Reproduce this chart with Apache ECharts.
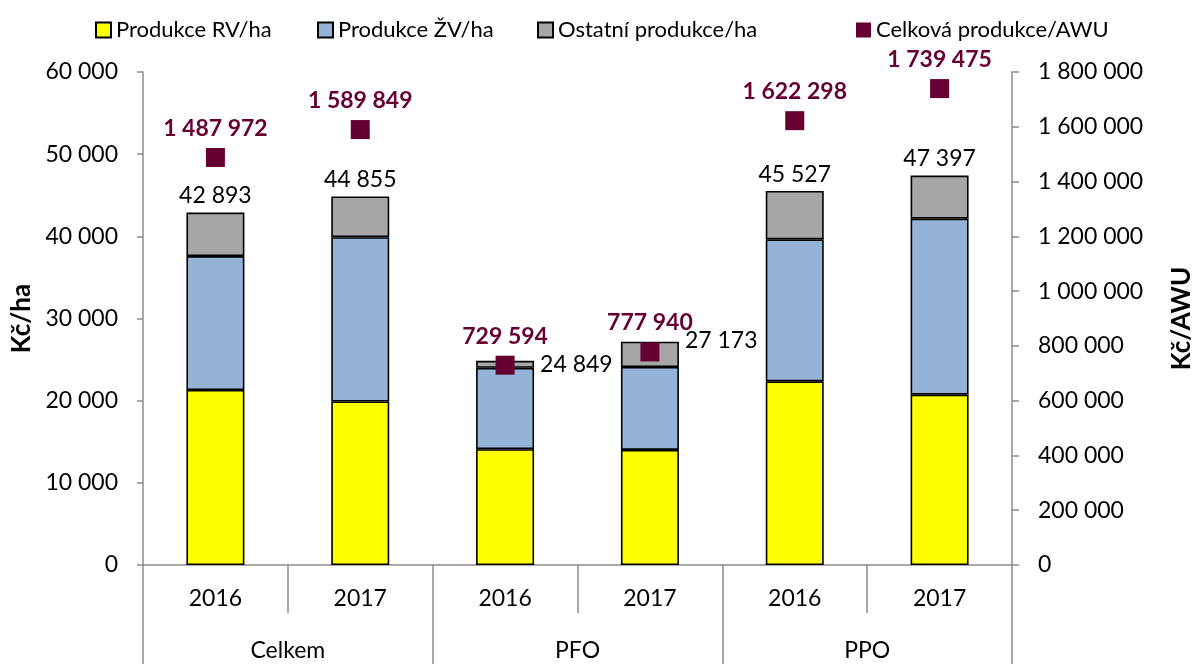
<!DOCTYPE html>
<html>
<head>
<meta charset="utf-8">
<script src="https://cdn.jsdelivr.net/npm/echarts@6/dist/echarts.min.js"></script>
<style>
  html, body { margin: 0; padding: 0; background: #fff; }
  #chart { width: 1203px; height: 664px; }
</style>
</head>
<body>
<div id="chart"></div>
<script>
// data
const years = ['2016', '2017', '2016', '2017', '2016', '2017']
const groups = ['Celkem', 'PFO', 'PPO']
const rvData = [21300, 19900, 14100, 14000, 22350, 20730]
const zvData = [16300, 20000, 9900, 10100, 17280, 21420]
const ostatniData = [5293, 4955, 849, 3073, 5897, 5247]
const totalData = [42893, 44855, 24849, 27173, 45527, 47397]
const awuData = [1487972, 1589849, 729594, 777940, 1622298, 1739475]
const leftTicks = { min: 0, max: 60000, interval: 10000 }
const rightTicks = { min: 0, max: 1800000, interval: 200000 }

const FONT = 'Lato'
const FS = 23
const AXIS_GREY = '#8c8c8c'
const fmt = v => String(Math.round(v)).replace(/\B(?=(\d{3})+(?!\d))/g, ' ')

const chart = echarts.init(document.getElementById('chart'))

// total label sits above the bar, except the PFO pair where it sits to the right
const totalLabel = (i) => {
  if (i === 2) return { position: 'right', distance: 6, offset: [0, 0] }
  if (i === 3) return { position: 'right', distance: 6, offset: [0, -14] }
  return { position: 'top', distance: 5 }
}

const barBorder = { borderColor: '#000', borderWidth: 1.6 }

// one legend block per item so each sits where the reference puts it
const legendAt = (name, left) => ({
  data: [name],
  left: left,
  top: 14,
  icon: 'rect',
  itemWidth: 15,
  itemHeight: 15,
  textStyle: { fontSize: 22, color: '#000', fontFamily: FONT }
})

const option = {
  animation: false,
  textStyle: { fontFamily: FONT },
  legend: [
    legendAt('Produkce RV/ha', 90),
    legendAt('Produkce ŽV/ha', 312),
    legendAt('Ostatní produkce/ha', 532),
    legendAt('Celková produkce/AWU', 851)
  ],
  grid: { left: 143, right: 186, top: 72, bottom: 99 },
  xAxis: [
    {
      type: 'category',
      data: years,
      axisLine: { lineStyle: { color: AXIS_GREY, width: 1.5 } },
      axisTick: { show: true, interval: 0, length: 48, lineStyle: { color: AXIS_GREY, width: 1.5 } },
      axisLabel: { fontSize: FS, color: '#000', margin: 22, fontFamily: FONT, interval: 0 }
    },
    {
      type: 'category',
      data: groups,
      position: 'bottom',
      axisLine: { show: false },
      axisTick: { show: true, interval: 0, length: 100, lineStyle: { color: AXIS_GREY, width: 1.5 } },
      axisLabel: { fontSize: FS, color: '#000', margin: 74, fontFamily: FONT, interval: 0 }
    }
  ],
  yAxis: [
    {
      type: 'value',
      min: leftTicks.min,
      max: leftTicks.max,
      interval: leftTicks.interval,
      name: 'Kč/ha',
      nameLocation: 'middle',
      nameGap: 106,
      nameTextStyle: { fontSize: 26, fontWeight: 'bold', color: '#000', fontFamily: FONT },
      axisLine: { show: true, lineStyle: { color: AXIS_GREY, width: 1.5 } },
      axisTick: { show: true, length: 6, lineStyle: { color: AXIS_GREY, width: 1.5 } },
      splitLine: { show: false },
      axisLabel: { fontSize: FS, color: '#000', margin: 25, formatter: fmt, fontFamily: FONT }
    },
    {
      type: 'value',
      min: rightTicks.min,
      max: rightTicks.max,
      interval: rightTicks.interval,
      name: 'Kč/AWU',
      nameLocation: 'middle',
      nameGap: 157,
      nameRotate: 90,
      nameTextStyle: { fontSize: 26, fontWeight: 'bold', color: '#000', fontFamily: FONT },
      axisLine: { show: true, lineStyle: { color: AXIS_GREY, width: 1.5 } },
      axisTick: { show: true, length: 7, lineStyle: { color: AXIS_GREY, width: 1.5 } },
      splitLine: { show: false },
      axisLabel: { fontSize: FS, color: '#000', margin: 26, formatter: fmt, fontFamily: FONT }
    }
  ],
  series: [
    {
      name: 'Produkce RV/ha',
      type: 'bar',
      stack: 'prod',
      barWidth: 58,
      itemStyle: Object.assign({ color: '#FFFF00' }, barBorder),
      data: rvData
    },
    {
      name: 'Produkce ŽV/ha',
      type: 'bar',
      stack: 'prod',
      itemStyle: Object.assign({ color: '#95B3D7' }, barBorder),
      data: zvData
    },
    {
      name: 'Ostatní produkce/ha',
      type: 'bar',
      stack: 'prod',
      itemStyle: Object.assign({ color: '#A6A6A6' }, barBorder),
      data: ostatniData.map((v, i) => ({
        value: v,
        label: Object.assign({
          show: true,
          fontSize: FS,
          color: '#000',
          fontFamily: FONT,
          formatter: () => fmt(totalData[i])
        }, totalLabel(i))
      }))
    },
    {
      name: 'Celková produkce/AWU',
      type: 'scatter',
      yAxisIndex: 1,
      symbol: 'rect',
      symbolSize: 19,
      itemStyle: { color: '#660033', opacity: 1 },
      z: 5,
      label: {
        show: true,
        position: 'top',
        distance: 8,
        fontSize: FS,
        fontWeight: 'bold',
        color: '#660033',
        fontFamily: FONT,
        formatter: p => fmt(p.value)
      },
      data: awuData
    }
  ]
}

chart.setOption(option)
</script>
</body>
</html>
